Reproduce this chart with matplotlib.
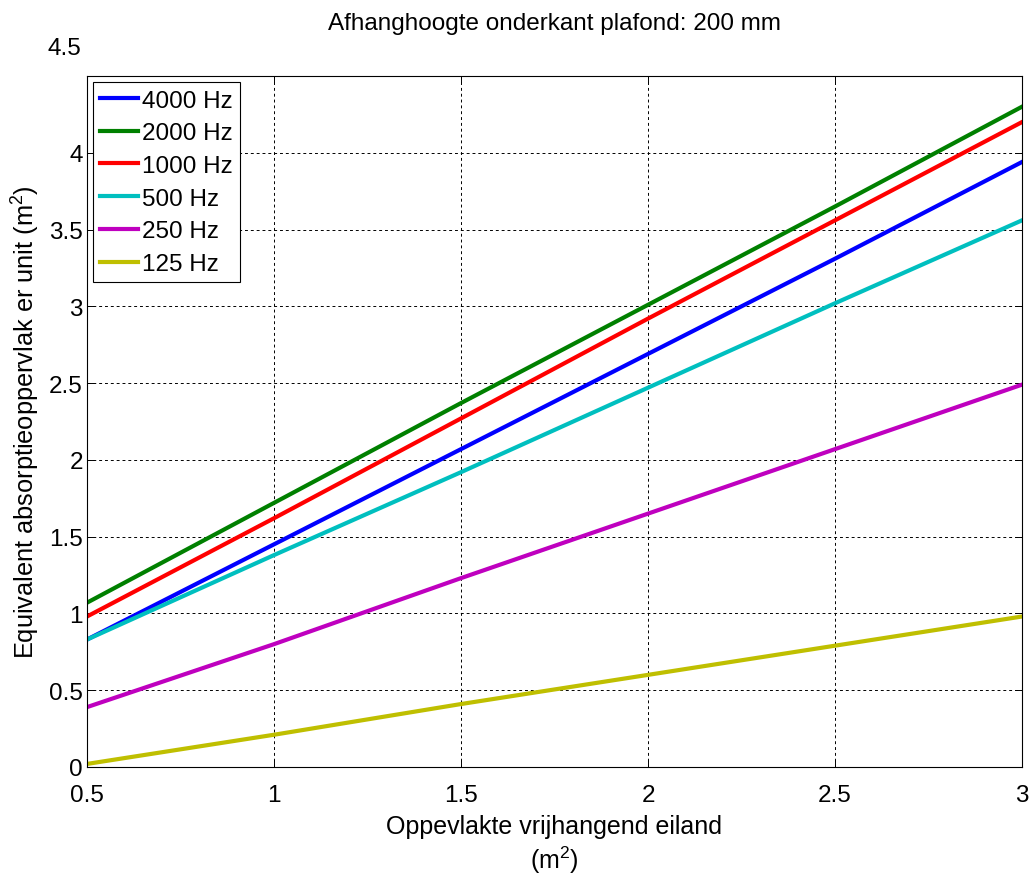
import matplotlib
matplotlib.use("Agg")
import matplotlib.pyplot as plt

plt.rcParams["font.family"] = ["Liberation Sans", "DejaVu Sans"]
plt.rcParams["mathtext.fontset"] = "custom"
plt.rcParams["mathtext.rm"] = "Liberation Sans"
plt.rcParams["mathtext.it"] = "Liberation Sans:italic"

# oppervlakte vrijhangend eiland (m2)
area = [0.5, 1.0, 1.5, 2.0, 2.5, 3.0]

hz4000 = [0.83, 1.45, 2.07, 2.69, 3.31, 3.94]
hz2000 = [1.07, 1.72, 2.37, 3.01, 3.65, 4.30]
hz1000 = [0.98, 1.62, 2.27, 2.92, 3.56, 4.20]
hz500 = [0.83, 1.38, 1.92, 2.47, 3.02, 3.56]
hz250 = [0.39, 0.80, 1.23, 1.65, 2.07, 2.49]
hz125 = [0.02, 0.21, 0.41, 0.60, 0.79, 0.98]

series = [
    ("4000 Hz", hz4000, "#0000ff"),
    ("2000 Hz", hz2000, "#008000"),
    ("1000 Hz", hz1000, "#ff0000"),
    ("500 Hz", hz500, "#00bfbf"),
    ("250 Hz", hz250, "#bf00bf"),
    ("125 Hz", hz125, "#bfbf00"),
]

FS = 17.5

fig = plt.figure(figsize=(10.34, 8.78), dpi=100)
ax = fig.add_axes([87 / 1034, 1 - 768 / 878, (1022 - 87) / 1034, (768 - 77) / 878])

for label, values, color in series:
    ax.plot(area, values, color=color, linewidth=3, label=label)

ax.set_xlim(0.5, 3)
ax.set_ylim(0, 4.5)
ax.set_xticks([0.5, 1, 1.5, 2, 2.5, 3])
ax.set_xticklabels(["0.5", "1", "1.5", "2", "2.5", "3"])
ax.set_yticks([0, 0.5, 1, 1.5, 2, 2.5, 3, 3.5, 4, 4.5])
ax.set_yticklabels(["0", "0.5", "1", "1.5", "2", "2.5", "3", "3.5", "4", ""])
ax.text(-0.006, 4.68, "4.5", transform=ax.get_yaxis_transform(), ha="right",
        va="center", fontsize=FS, clip_on=False)

ax.grid(True, color="black", linestyle=(0, (3, 3)), linewidth=0.7)
ax.tick_params(direction="in", labelsize=FS, length=5, width=0.7, top=True, right=True)
ax.tick_params(axis="x", pad=12)
ax.tick_params(axis="y", pad=3)
for spine in ax.spines.values():
    spine.set_linewidth(0.8)

ax.set_title("Afhanghoogte onderkant plafond: 200 mm", fontsize=FS, pad=34)
ax.set_xlabel("Oppevlakte vrijhangend eiland\n(m$^2$)", fontsize=18, labelpad=6,
              linespacing=1.25)
ax.set_ylabel("Equivalent absorptieoppervlak er unit (m$^2$)", fontsize=18.3, labelpad=5)

leg = ax.legend(loc="upper left", bbox_to_anchor=(0.006, 0.991), fontsize=FS,
                frameon=True, fancybox=False, edgecolor="black", framealpha=1,
                handlelength=1.55, handletextpad=0.2, labelspacing=0.44,
                borderpad=0.3, borderaxespad=0)
leg.get_frame().set_linewidth(0.8)

fig.savefig("out.png", dpi=100)
